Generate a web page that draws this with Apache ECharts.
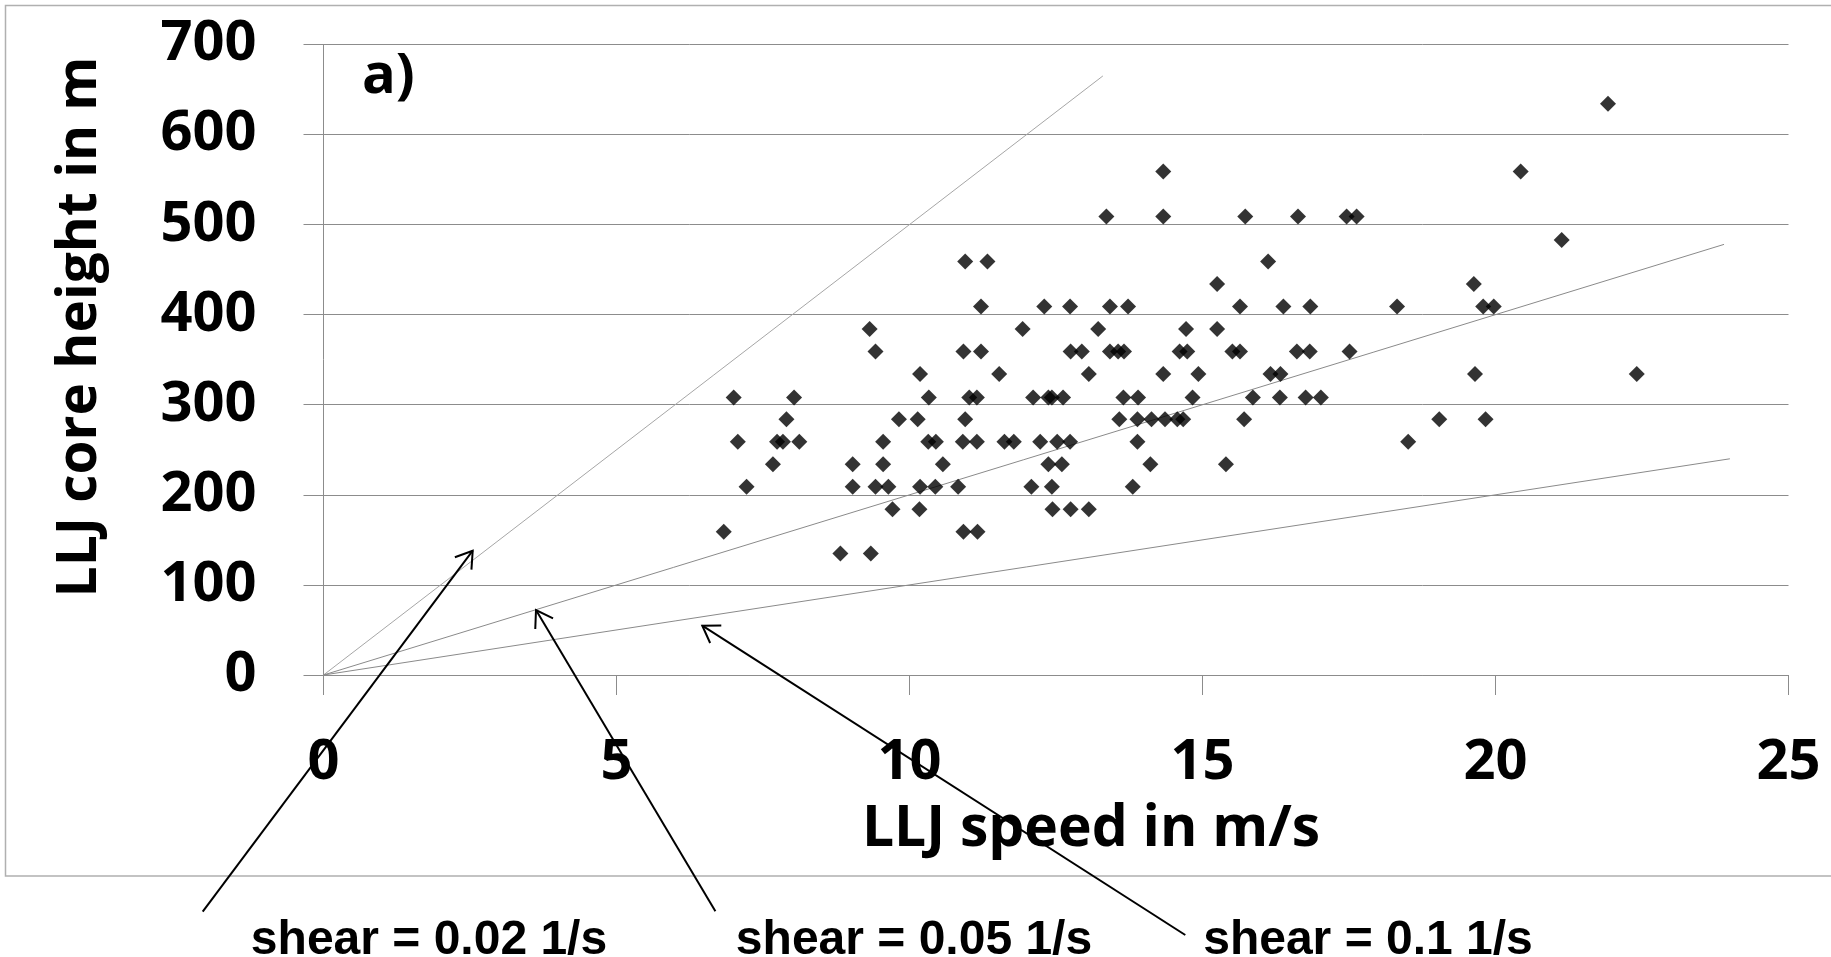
<!DOCTYPE html>
<html><head><meta charset="utf-8">
<script src="https://cdn.jsdelivr.net/npm/echarts@6/dist/echarts.min.js"></script>
<style>html,body{margin:0;padding:0;background:#fff}#c{width:1831px;height:957px}</style>
</head><body><div id="c"></div>
<script>
// ---- data ----
const xTickLabels = ['0', '5', '10', '15', '20', '25'];
const yTickLabels = ['0', '100', '200', '300', '400', '500', '600', '700'];

const speeds = [
  6.83, 7.00, 7.07, 7.22, 7.67, 7.74, 7.84, 7.90, 8.03, 8.12, 8.82, 9.03, 9.03, 9.32, 9.34, 9.42, 9.42, 9.55, 9.55, 9.64, 9.71, 9.82,
  11.22, 12.30, 12.74, 13.42, 13.73,
  11.93, 13.22, 14.72,
  10.92, 11.22, 12.75, 12.94, 13.42, 13.56, 13.66, 14.61, 14.74,
  10.18, 11.53, 13.06, 14.33, 14.93,
  10.33, 11.02, 11.15, 12.11, 12.37, 12.43, 12.62, 13.65, 13.90, 14.83,
  10.14, 10.95, 13.58, 13.89, 14.13, 14.36, 14.57, 14.67,
  10.32, 10.45, 10.91, 11.15, 11.62, 11.78, 12.23, 12.52, 12.74, 13.89,
  10.57, 12.37, 12.60, 14.11,
  10.18, 10.44, 10.83, 12.08, 12.43, 13.81,
  10.17, 12.44, 12.75, 13.06,
  10.92, 11.16,
  13.36, 14.33, 15.73, 16.63, 17.46, 17.63,
  14.33, 20.43,
  10.95, 11.33, 16.12,
  15.25, 19.63,
  15.64, 16.38, 16.84, 18.32, 19.79, 19.97,
  15.25,
  15.51, 15.64, 16.61, 16.83, 17.51,
  16.16, 16.33, 19.65, 22.41,
  15.86, 16.32, 16.76, 17.02,
  15.71, 19.04, 19.83,
  18.51,
  15.40,
  21.13,
  21.92
];
const heights = [
  159, 308, 259, 209, 234, 259, 259, 284, 308, 259, 135, 234, 209, 384, 135, 359, 209, 259, 234, 209, 184, 284,
  409, 409, 409, 409, 409,
  384, 384, 384,
  359, 359, 359, 359, 359, 359, 359, 359, 359,
  334, 334, 334, 334, 334,
  308, 308, 308, 308, 308, 308, 308, 308, 308, 308,
  284, 284, 284, 284, 284, 284, 284, 284,
  259, 259, 259, 259, 259, 259, 259, 259, 259, 259,
  234, 234, 234, 234,
  209, 209, 209, 209, 209, 209,
  184, 184, 184, 184,
  159, 159,
  509, 509, 509, 509, 509, 509,
  559, 559,
  459, 459, 459,
  434, 434,
  409, 409, 409, 409, 409, 409,
  384,
  359, 359, 359, 359, 359,
  334, 334, 334, 334,
  308, 308, 308, 308,
  284, 284, 284,
  259,
  234,
  483,
  634
];

// reference lines of constant shear (height = speed / shear)
const shearLabels = ['shear = 0.02 1/s', 'shear = 0.05 1/s', 'shear = 0.1 1/s'];
const shearLineSpeeds = [[0, 13.3], [0, 23.9], [0, 24.0]];
const shearLineHeights = [[0, 665], [0, 478], [0, 240]];

// ---- chart ----
const chart = echarts.init(document.getElementById('c'), null, {renderer: 'canvas'});
const W = 1831, H = 957;
const gridL = 323.5, gridR = 1788.5, gridT = 44.4, gridB = 675;
const tickFont = '"Open Sans", "Noto Sans", sans-serif';
const lineColors = ['#a6a6a6', '#8a8a8a', '#8a8a8a'];

const points = speeds.map((s, i) => [s, heights[i]]);

const lineSeries = shearLineSpeeds.map((xs, k) => ({
  type: 'line',
  name: shearLabels[k],
  data: xs.map((x, j) => [x, shearLineHeights[k][j]]),
  symbol: 'none',
  lineStyle: {color: lineColors[k], width: 1},
  silent: true,
  z: 1
}));

// annotation arrows (pixel layout): [tail, tip]
const arrows = [
  [[202.7, 911.7], [472.7, 550.7]],
  [[715.4, 911.2], [536.0, 610.0]],
  [[1185.3, 935.0], [702.3, 625.7]]
];
const labelCenters = [429, 914, 1368];

function arrowGraphics(tail, tip) {
  const dx = tip[0] - tail[0], dy = tip[1] - tail[1];
  const L = Math.hypot(dx, dy);
  const bx = -dx / L, by = -dy / L;
  const len = 19, a = 33 * Math.PI / 180;
  const c = Math.cos(a), s = Math.sin(a);
  const p1 = [tip[0] + len * (bx * c - by * s), tip[1] + len * (bx * s + by * c)];
  const p2 = [tip[0] + len * (bx * c + by * s), tip[1] + len * (-bx * s + by * c)];
  return [
    {type: 'line', shape: {x1: tail[0], y1: tail[1], x2: tip[0], y2: tip[1]}, style: {stroke: '#000', lineWidth: 2}, z: 10},
    {type: 'polyline', shape: {points: [p1, tip, p2]}, style: {stroke: '#000', lineWidth: 2, fill: null}, z: 10}
  ];
}

const graphics = [
  {type: 'rect', shape: {x: 5.5, y: 5.5, width: 1860, height: 870.5}, style: {stroke: '#b0b0b0', lineWidth: 1.5, fill: null}, z: 0, silent: true},
  {type: 'text', x: 362, y: 77, style: {text: 'a)', font: 'bold 56px ' + tickFont, fill: '#000', textAlign: 'left', textVerticalAlign: 'middle'}, z: 10},
  {type: 'text', x: 1091, y: 830, style: {text: 'LLJ speed in m/s', font: 'bold 57px ' + tickFont, fill: '#000', textAlign: 'center', textVerticalAlign: 'middle'}, z: 10},
  {type: 'text', x: 80, y: 327, rotation: Math.PI / 2, style: {text: 'LLJ core height in m', font: 'bold 55px ' + tickFont, fill: '#000', textAlign: 'center', textVerticalAlign: 'middle'}, z: 10}
];
arrows.forEach(([tail, tip]) => graphics.push(...arrowGraphics(tail, tip)));
shearLabels.forEach((t, k) => graphics.push({
  type: 'text', x: labelCenters[k], y: 941,
  style: {text: t, font: 'bold 48px "Liberation Sans", Arial, sans-serif', fill: '#000', textAlign: 'center', textVerticalAlign: 'middle'}, z: 10
}));

chart.setOption({
  animation: false,
  backgroundColor: '#fff',
  grid: {left: gridL, right: W - gridR, top: gridT, bottom: H - gridB, containLabel: false},
  xAxis: {
    type: 'value', min: 0, max: 25, interval: 5,
    axisLine: {show: true, lineStyle: {color: '#8c8c8c', width: 1}},
    axisTick: {show: true, length: 20, inside: false, lineStyle: {color: '#8c8c8c', width: 1}},
    splitLine: {show: false},
    axisLabel: {
      margin: 60, color: '#000', fontSize: 56, fontWeight: 'bold', fontFamily: tickFont,
      formatter: v => xTickLabels[Math.round(v / 5)]
    }
  },
  yAxis: {
    type: 'value', min: 0, max: 700, interval: 100,
    axisLine: {show: true, lineStyle: {color: '#8c8c8c', width: 1}},
    axisTick: {show: true, length: 20, inside: false, lineStyle: {color: '#8c8c8c', width: 1}},
    splitLine: {show: true, lineStyle: {color: '#8c8c8c', width: 1}},
    axisLabel: {
      margin: 67, color: '#000', fontSize: 56, fontWeight: 'bold', fontFamily: tickFont,
      formatter: v => yTickLabels[Math.round(v / 100)]
    }
  },
  series: [
    ...lineSeries,
    {
      type: 'scatter', name: 'LLJ', data: points,
      symbol: 'diamond', symbolSize: 16,
      itemStyle: {color: '#000000'}, z: 3
    }
  ],
  graphic: graphics
});
</script>
</body></html>
